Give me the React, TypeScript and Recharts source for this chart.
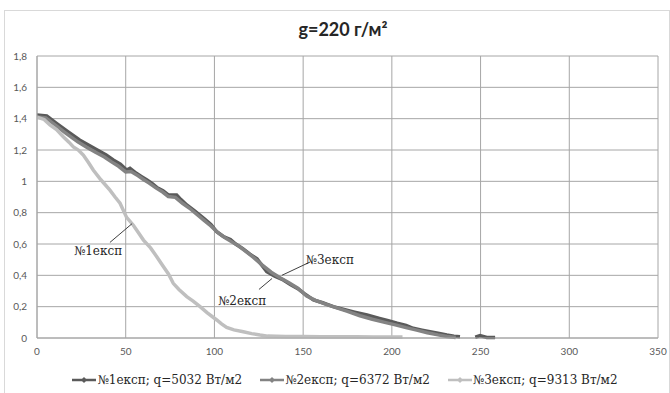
import { LineChart, Line, XAxis, YAxis, CartesianGrid, ReferenceLine, ReferenceDot } from 'recharts';

// №1експ; q=5032 Вт/м2
const exp1X = [0, 5.5, 11, 17, 24, 29, 34, 39, 43, 47, 50.5, 52.4, 56, 59, 62, 65, 67.5, 71, 74, 78.7, 81, 84.4, 89, 94, 98, 101.3, 105, 109, 112, 116, 120, 124, 129.5, 134, 138.8, 143, 147, 150.5, 155.8, 161, 167, 173, 179, 186, 193, 198, 203, 208, 212, 217, 221.5, 226, 231, 235, 238.4, 242, 247, 249.7, 253.5, 258.2];
const exp1Y = [1.423, 1.417, 1.37, 1.32, 1.264, 1.232, 1.2, 1.168, 1.136, 1.11, 1.072, 1.083, 1.051, 1.03, 1.008, 0.985, 0.961, 0.94, 0.913, 0.913, 0.885, 0.849, 0.81, 0.764, 0.725, 0.678, 0.648, 0.628, 0.6, 0.57, 0.535, 0.505, 0.423, 0.395, 0.37, 0.34, 0.315, 0.285, 0.243, 0.225, 0.2, 0.182, 0.165, 0.147, 0.125, 0.11, 0.094, 0.08, 0.062, 0.05, 0.04, 0.03, 0.019, 0.012, 0.008, null, 0.005, 0.015, 0.003, 0.003];

// №2експ; q=6372 Вт/м2
const exp2X = [0, 5, 10, 16, 23, 28, 33, 38, 42, 46, 50, 53, 57, 60, 63, 67, 71, 74, 78, 82, 86, 90, 94, 98, 102, 106, 110, 114, 118, 122, 127, 132, 137, 142, 147, 152, 157, 163, 169, 175, 182, 189, 196, 202, 208, 214, 220, 226, 231, 236];
const exp2Y = [1.41, 1.405, 1.362, 1.31, 1.252, 1.218, 1.186, 1.155, 1.124, 1.096, 1.06, 1.062, 1.035, 1.012, 0.99, 0.958, 0.93, 0.903, 0.898, 0.86, 0.828, 0.79, 0.752, 0.715, 0.672, 0.64, 0.612, 0.585, 0.55, 0.515, 0.465, 0.42, 0.385, 0.352, 0.318, 0.268, 0.24, 0.215, 0.192, 0.17, 0.142, 0.12, 0.1, 0.084, 0.066, 0.05, 0.034, 0.02, 0.01, 0.003];

// №3експ; q=9313 Вт/м2
const exp3X = [0, 4, 7.3, 11, 14.8, 18, 20.5, 23.3, 26.1, 29, 31.7, 36, 41.1, 44, 46.8, 50.5, 54.3, 57, 60, 64, 67.5, 71, 74, 76.8, 80, 84.4, 88, 91.9, 96, 101.3, 104, 106.9, 111, 116.3, 121, 125.7, 130, 140, 150, 160, 170, 180, 190, 198, 206];
const exp3Y = [1.41, 1.395, 1.36, 1.33, 1.285, 1.25, 1.22, 1.2, 1.168, 1.12, 1.072, 1.01, 0.944, 0.9, 0.86, 0.77, 0.72, 0.675, 0.625, 0.575, 0.519, 0.46, 0.41, 0.349, 0.31, 0.264, 0.235, 0.2, 0.16, 0.115, 0.09, 0.068, 0.052, 0.04, 0.028, 0.019, 0.012, 0.01, 0.01, 0.008, 0.008, 0.008, 0.007, 0.007, 0.007];

const xTicks = [0, 50, 100, 150, 200, 250, 300, 350];
const yTicks = [0, 0.2, 0.4, 0.6, 0.8, 1, 1.2, 1.4, 1.6, 1.8];

const series = [
  { name: '№1експ; q=5032 Вт/м2', color: '#5a5a5a', xs: exp1X, ys: exp1Y },
  { name: '№2експ; q=6372 Вт/м2', color: '#838383', xs: exp2X, ys: exp2Y },
  { name: '№3експ; q=9313 Вт/м2', color: '#bfbfbf', xs: exp3X, ys: exp3Y },
];

const toPoints = (xs: number[], ys: (number | null)[]) => xs.map((x, i) => ({ x, y: ys[i] }));

const serif = '"DejaVu Serif", "Liberation Serif", serif';
const tickStyle = { fontSize: 10, fill: '#595959', fontFamily: 'Lato, "Open Sans", sans-serif' };
const noteStyle = { fontSize: 12, fill: '#262626', fontFamily: serif };

const Marker = ({ color }: { color: string }) => (
  <svg width={24} height={10} style={{ marginRight: 1 }}>
    <line x1={0} y1={5} x2={24} y2={5} stroke={color} strokeWidth={2.5} />
    <polygon points="12,2 15,5 12,8 9,5" fill={color} />
  </svg>
);

export default function App() {
  return (
    <div style={{ position: 'absolute', left: 0, top: 0, width: 670, height: 393, background: '#fff', overflow: 'hidden' }}>
      <div style={{ position: 'absolute', left: 4, top: 10, width: 664, height: 390, border: '1px solid #d9d9d9' }} />
      <div style={{ position: 'absolute', left: 0, top: 18, width: 686, textAlign: 'center', fontFamily: 'Lato, "Open Sans", sans-serif', fontWeight: 700, fontSize: 18, color: '#262626' }}>
        g=220 г/м²
      </div>
      <div style={{ position: 'absolute', left: 0, top: 0 }}>
        <LineChart width={670} height={370} margin={{ top: 56, right: 12, left: 0, bottom: 7 }}>
          <CartesianGrid stroke="#a6a6a6" strokeWidth={1} />
          <XAxis
            type="number"
            dataKey="x"
            domain={[0, 350]}
            ticks={xTicks}
            tick={tickStyle}
            tickSize={0}
            tickMargin={10}
            height={25}
            axisLine={{ stroke: '#a6a6a6' }}
            allowDataOverflow
          />
          <YAxis
            type="number"
            dataKey="y"
            domain={[0, 1.8]}
            ticks={yTicks}
            tick={tickStyle}
            tickSize={0}
            tickMargin={10}
            width={37}
            axisLine={{ stroke: '#a6a6a6' }}
            tickFormatter={(v: number) => String(v).replace('.', ',')}
          />
          {series.map((s) => (
            <Line
              key={s.name}
              data={toPoints(s.xs, s.ys)}
              dataKey="y"
              name={s.name}
              type="linear"
              stroke={s.color}
              strokeWidth={3.5}
              dot={false}
              isAnimationActive={false}
            />
          ))}
          <ReferenceLine segment={[{ x: 41.1, y: 0.61 }, { x: 53.6, y: 0.73 }]} stroke="#404040" strokeWidth={1} />
          <ReferenceLine segment={[{ x: 125.1, y: 0.31 }, { x: 132.5, y: 0.38 }]} stroke="#404040" strokeWidth={1} />
          <ReferenceLine segment={[{ x: 138, y: 0.4 }, { x: 153.9, y: 0.485 }]} stroke="#404040" strokeWidth={1} />
          <ReferenceDot x={34.4} y={0.56} r={0} fill="none" stroke="none" label={{ value: '№1експ', position: 'center', style: noteStyle }} />
          <ReferenceDot x={115.6} y={0.24} r={0} fill="none" stroke="none" label={{ value: '№2експ', position: 'center', style: noteStyle }} />
          <ReferenceDot x={165} y={0.5} r={0} fill="none" stroke="none" label={{ value: '№3експ', position: 'center', style: noteStyle }} />
        </LineChart>
      </div>
      <div style={{ position: 'absolute', left: 0, top: 373, width: 690, display: 'flex', justifyContent: 'center', gap: 18, fontFamily: serif, fontSize: 12, color: '#262626' }}>
        {series.map((s) => (
          <div key={s.name} style={{ display: 'flex', alignItems: 'center' }}>
            <Marker color={s.color} />
            <span>{s.name}</span>
          </div>
        ))}
      </div>
    </div>
  );
}
